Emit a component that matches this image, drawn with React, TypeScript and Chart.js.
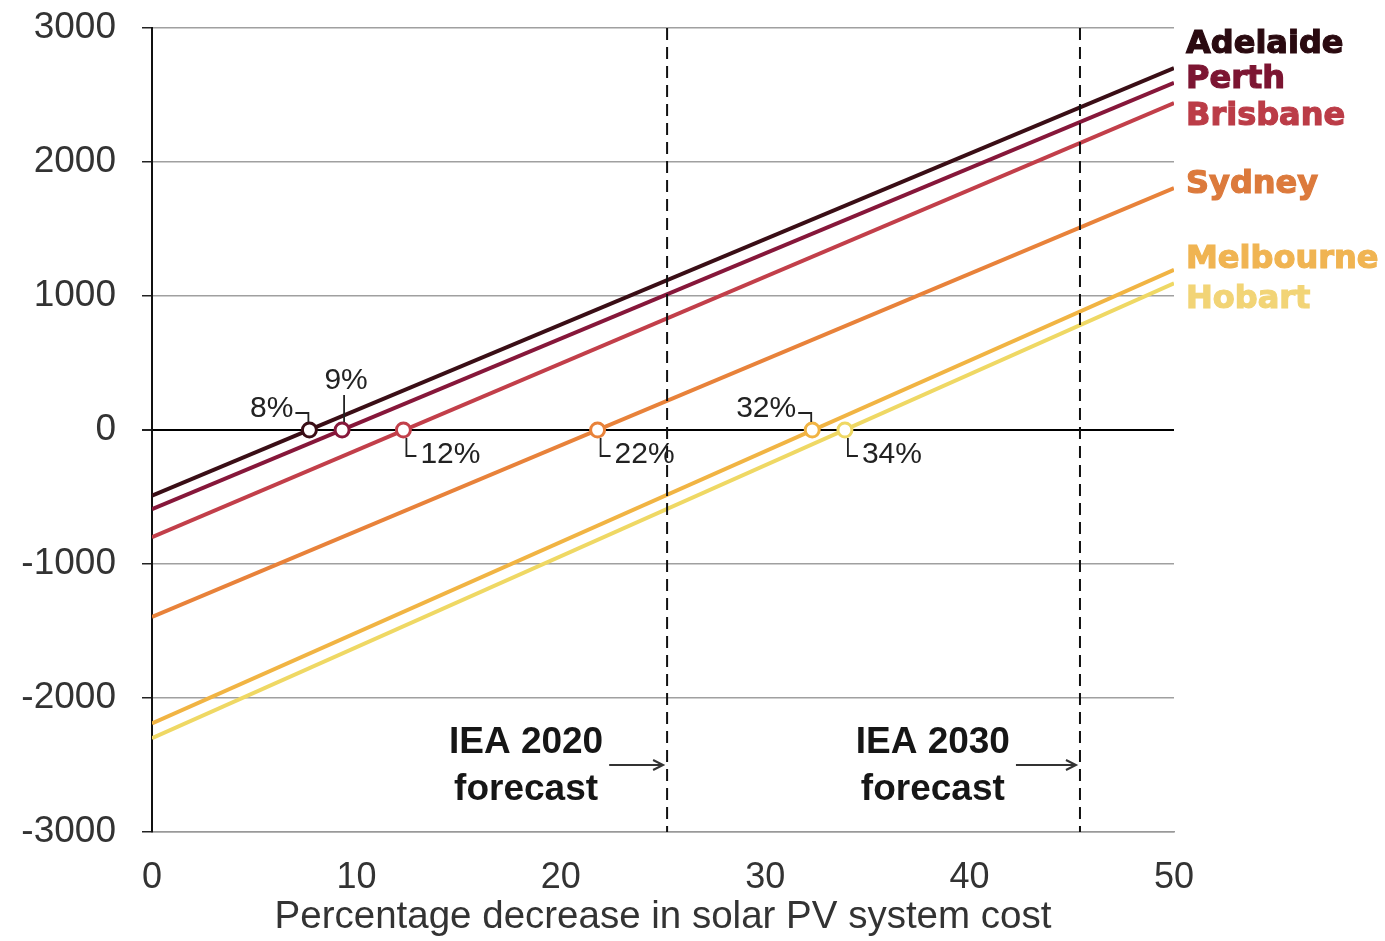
import React, { useEffect, useRef } from 'react';
import { Chart, registerables } from 'chart.js';

Chart.register(...registerables);

// ---- data ----
const cities = ['Adelaide', 'Perth', 'Brisbane', 'Sydney', 'Melbourne', 'Hobart'];
const xRange = [0, 50];
const startValues = [-490, -590, -800, -1395, -2190, -2300];
const endValues = [2700, 2590, 2440, 1805, 1195, 1095];
const breakEven = [7.7, 9.3, 12.3, 21.8, 32.3, 33.9];
const breakEvenLabels = ['8%', '9%', '12%', '22%', '32%', '34%'];
const forecastX = [25.2, 45.4];
const forecastLabels = [['IEA 2020', 'forecast'], ['IEA 2030', 'forecast']];
const yTickValues = [3000, 2000, 1000, 0, -1000, -2000, -3000];
const xTickValues = [0, 10, 20, 30, 40, 50];
const xTitle = 'Percentage decrease in solar PV system cost';

// ---- styles ----
const lineColors = ['#3a0e16', '#86173a', '#c23f4a', '#e8823a', '#f1b443', '#efd864'];
const textColors = ['#2a0a10', '#7c1532', '#bb3c47', '#dc7a3c', '#f0b452', '#f2d476'];
const cityLabelY = [2873, 2612, 2336, 1828, 1269, 970];
const labelKinds = ['leftUp', 'top', 'rightDown', 'rightDown', 'leftUp', 'rightDown'];
const forecastTextX = [18.3, 38.2];

export default function App() {
  const ref = useRef<HTMLCanvasElement>(null);

  useEffect(() => {
    document.body.style.margin = '0';
    const canvas = ref.current!;

    const lineDatasets = cities.map((c, i) => ({
      label: c,
      data: [
        { x: xRange[0], y: startValues[i] },
        { x: xRange[1], y: endValues[i] },
      ],
      showLine: true,
      borderColor: lineColors[i],
      backgroundColor: lineColors[i],
      borderWidth: 4,
      pointRadius: 0,
      order: 2,
    }));

    const markerDataset = {
      label: 'break-even',
      data: breakEven.map((x) => ({ x, y: 0 })),
      showLine: false,
      pointRadius: 7,
      pointBorderWidth: 3,
      pointBackgroundColor: '#ffffff',
      pointBorderColor: lineColors,
      order: 0,
    };

    const overlay = {
      id: 'overlay',
      afterDatasetsDraw(chart: any) {
        const { ctx, chartArea, scales } = chart;
        const xs = scales.x;
        const ys = scales.y;
        ctx.save();

        // dashed forecast lines
        ctx.strokeStyle = '#111';
        ctx.lineWidth = 2;
        ctx.setLineDash([12, 7]);
        forecastX.forEach((v) => {
          const px = xs.getPixelForValue(v);
          ctx.beginPath();
          ctx.moveTo(px, chartArea.top);
          ctx.lineTo(px, chartArea.bottom);
          ctx.stroke();
        });
        ctx.setLineDash([]);

        // forecast texts and arrows
        ctx.fillStyle = '#161616';
        ctx.font = 'bold 37px "Liberation Sans", Arial, sans-serif';
        ctx.textAlign = 'center';
        ctx.textBaseline = 'middle';
        forecastLabels.forEach((lines, i) => {
          const cx = xs.getPixelForValue(forecastTextX[i]);
          ctx.fillText(lines[0], cx, ys.getPixelForValue(-2336));
          ctx.fillText(lines[1], cx, ys.getPixelForValue(-2687));
          const w = ctx.measureText(lines[0]).width;
          const sx = cx + w / 2 + 6;
          const ex = xs.getPixelForValue(forecastX[i]) - 4;
          const ay = ys.getPixelForValue(-2500);
          ctx.strokeStyle = '#333';
          ctx.lineWidth = 2;
          ctx.beginPath();
          ctx.moveTo(sx, ay);
          ctx.lineTo(ex, ay);
          ctx.moveTo(ex - 10, ay - 5);
          ctx.lineTo(ex, ay);
          ctx.lineTo(ex - 10, ay + 5);
          ctx.stroke();
        });

        // city labels
        ctx.font = 'bold 32px "DejaVu Sans", sans-serif';
        ctx.textAlign = 'left';
        cities.forEach((c, i) => {
          ctx.fillStyle = textColors[i];
          ctx.strokeStyle = textColors[i];
          ctx.lineWidth = 1.2;
          const ty = ys.getPixelForValue(cityLabelY[i]);
          ctx.fillText(c, chartArea.right + 12, ty);
          ctx.strokeText(c, chartArea.right + 12, ty);
        });

        // break-even labels
        ctx.font = '30px "Liberation Sans", Arial, sans-serif';
        ctx.fillStyle = '#222';
        ctx.strokeStyle = '#222';
        ctx.lineWidth = 1.8;
        breakEven.forEach((v, i) => {
          const mx = xs.getPixelForValue(v);
          const my = ys.getPixelForValue(0);
          const kind = labelKinds[i];
          ctx.beginPath();
          if (kind === 'leftUp') {
            ctx.moveTo(mx - 14, my - 17);
            ctx.lineTo(mx - 1, my - 17);
            ctx.lineTo(mx - 1, my - 8);
            ctx.stroke();
            ctx.textAlign = 'right';
            ctx.fillText(breakEvenLabels[i], mx - 16, my - 21);
          } else if (kind === 'top') {
            ctx.moveTo(mx + 2, my - 35);
            ctx.lineTo(mx + 2, my - 8);
            ctx.stroke();
            ctx.textAlign = 'center';
            ctx.fillText(breakEvenLabels[i], mx + 4, my - 49);
          } else {
            ctx.moveTo(mx + 3, my + 8);
            ctx.lineTo(mx + 3, my + 26);
            ctx.lineTo(mx + 13, my + 26);
            ctx.stroke();
            ctx.textAlign = 'left';
            ctx.fillText(breakEvenLabels[i], mx + 17, my + 25);
          }
        });

        ctx.restore();
      },
    };

    const chart = new Chart(canvas, {
      type: 'scatter',
      data: { datasets: [markerDataset as any, ...(lineDatasets as any)] },
      options: {
        animation: false,
        responsive: false,
        devicePixelRatio: 1,
        layout: { padding: { top: 28, right: 211, left: 0, bottom: 0 } },
        plugins: {
          legend: { display: false },
          tooltip: { enabled: false },
        },
        scales: {
          x: {
            type: 'linear',
            min: xRange[0],
            max: xRange[1],
            afterBuildTicks: (s: any) => {
              s.ticks = xTickValues.map((v) => ({ value: v }));
            },
            afterFit: (s: any) => {
              s.height = 109;
              s.paddingLeft = 0;
              s.paddingRight = 0;
            },
            grid: { display: false, drawTicks: false },
            border: { display: true, color: '#999', width: 1.5 },
            ticks: {
              color: '#333',
              padding: 24,
              font: { family: '"Liberation Sans", Arial, sans-serif', size: 36 },
              callback: (v: any) => String(v),
            },
            title: {
              display: true,
              text: xTitle,
              color: '#333',
              font: { family: '"Liberation Sans", Arial, sans-serif', size: 38.5, lineHeight: 1 },
              padding: { top: 0, bottom: 4 },
            },
          },
          y: {
            type: 'linear',
            min: -3000,
            max: 3000,
            afterBuildTicks: (s: any) => {
              s.ticks = yTickValues.map((v) => ({ value: v }));
            },
            afterFit: (s: any) => {
              s.width = 152;
              s.paddingTop = 0;
              s.paddingBottom = 0;
            },
            grid: {
              color: (c: any) => (c.tick && c.tick.value === 0 ? '#000' : '#a0a0a0'),
              lineWidth: (c: any) => (c.tick && c.tick.value === 0 ? 2 : 1.5),
              tickColor: '#222',
              tickLength: 10,
            },
            border: { display: true, color: '#111', width: 2 },
            ticks: {
              color: '#333',
              padding: 26,
              font: { family: '"Liberation Sans", Arial, sans-serif', size: 37 },
              callback: (v: any) => String(v),
            },
          },
        },
      },
      plugins: [overlay],
    });

    return () => chart.destroy();
  }, []);

  return (
    <div style={{ position: 'absolute', left: 0, top: 0, width: 1385, height: 941, background: '#fff' }}>
      <canvas ref={ref} width={1385} height={941} />
    </div>
  );
}
